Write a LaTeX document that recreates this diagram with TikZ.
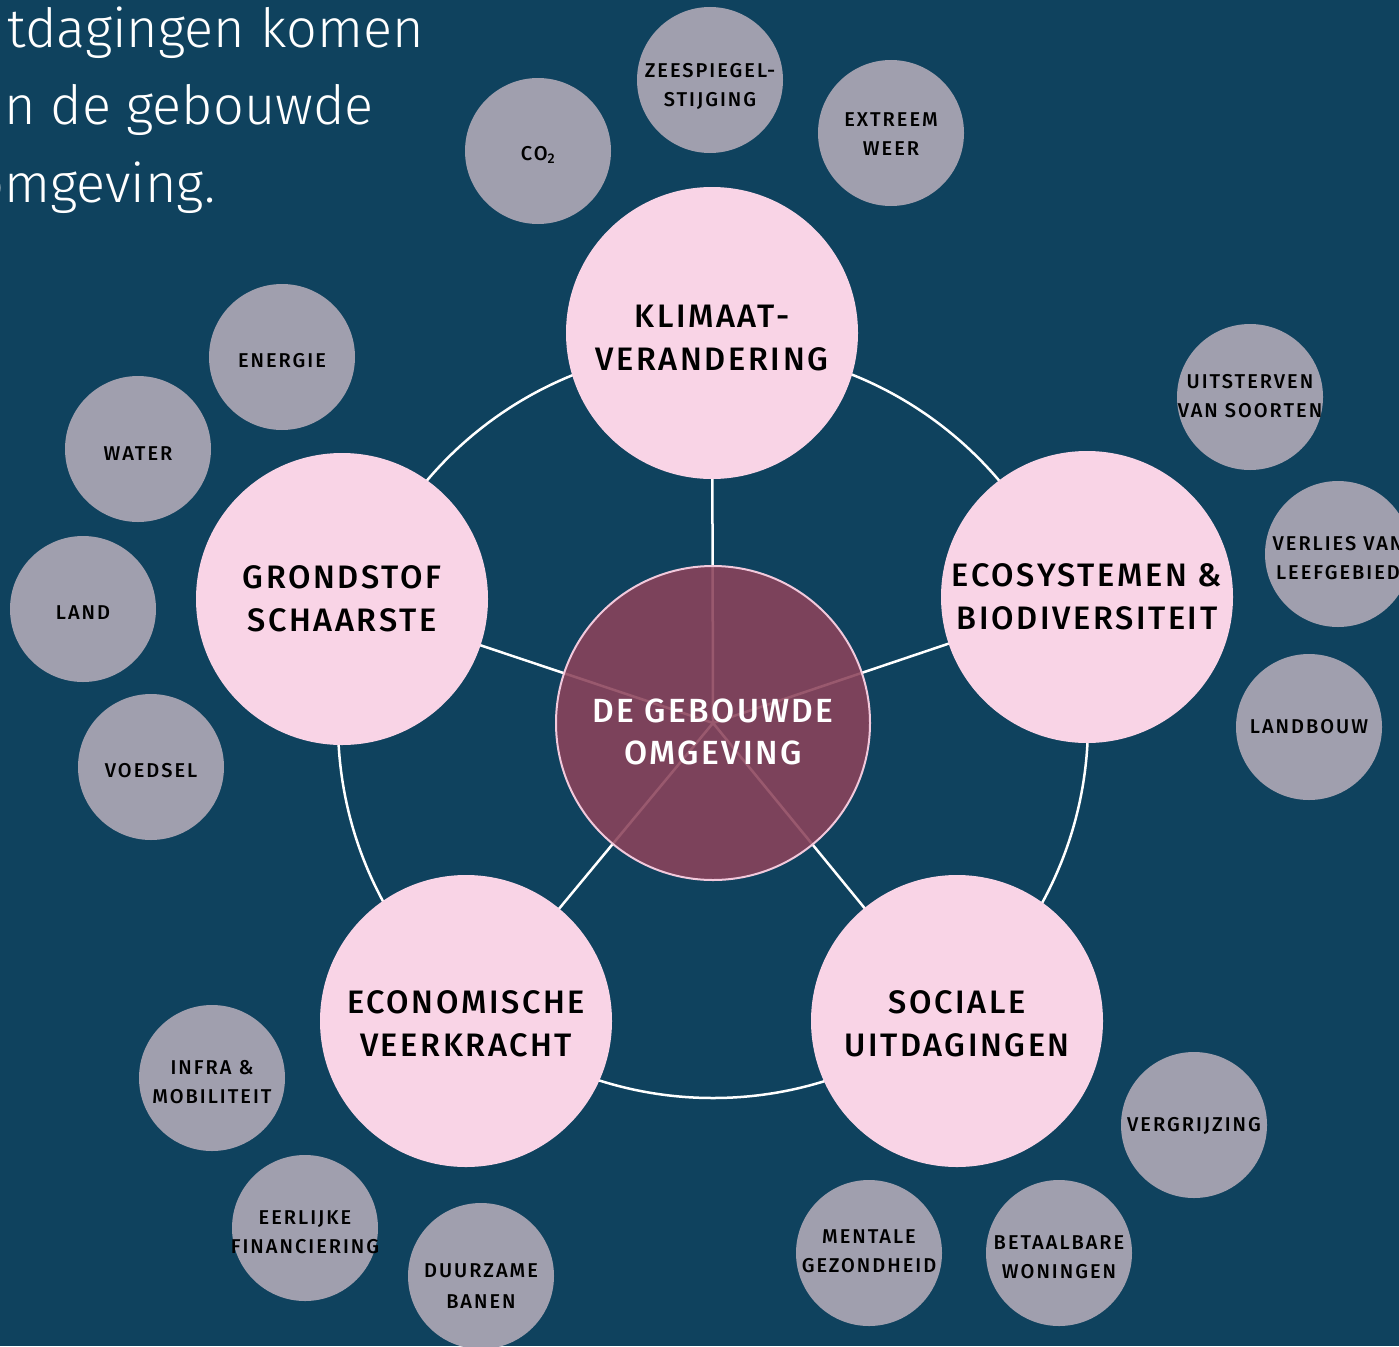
\documentclass[tikz,border=0pt]{standalone}
\usepackage{fontspec}
\setmainfont{Fira Sans}
\newfontfamily\medfont{Fira Sans Medium}[LetterSpace=8]
\newfontfamily\smallfont{Fira Sans Medium}[LetterSpace=10]
\newfontfamily\corefont{Fira Sans Medium}[LetterSpace=7]
\newfontfamily\lightfont{Fira Sans Light}
\definecolor{bg}{HTML}{0F425E}
\definecolor{pinkc}{HTML}{F9D4E6}
\definecolor{grayc}{HTML}{A09FAE}
\definecolor{maroon}{HTML}{8C435B}
\definecolor{rimc}{HTML}{F2C9DC}
\pgfdeclarelayer{back}
\pgfdeclarelayer{lines}
\pgfsetlayers{back,lines,main}
\tikzset{
  theme/.style={circle, fill=pinkc, minimum size=292pt, inner sep=0pt},
  themelab/.style={align=center, inner sep=0pt, text=black,
    font=\medfont\fontsize{32.5}{43}\selectfont},
  sub/.style={circle, fill=grayc, minimum size=146pt, inner sep=0pt},
  sublab/.style={align=center, inner sep=0pt, text=black,
    font=\smallfont\fontsize{20}{29}\selectfont},
  core/.style={circle, fill=maroon, fill opacity=0.88, draw=rimc, draw opacity=1,
    line width=2pt, minimum size=314pt, inner sep=0pt},
  corelab/.style={align=center, inner sep=0pt, text=white,
    font=\corefont\fontsize{33.5}{42}\selectfont},
  link/.style={white, line width=2.5pt},
  intro/.style={anchor=base west, text=white, inner sep=0pt, font=\lightfont\fontsize{54}{77}\selectfont},
}
\begin{document}
\begin{tikzpicture}[x=1pt,y=-1pt]
\useasboundingbox (0,0) rectangle (1399,1346);
\clip (0,0) rectangle (1399,1346);
\begin{pgfonlayer}{back}
\fill[bg] (0,0) rectangle (1399,1346);
\end{pgfonlayer}

% intro text
\node[intro] (t1) at (7,48) {tdagingen komen};
\node[intro] (t2) at (4,124) {n de gebouwde};
\node[intro] (t3) at (-27,202) {omgeving.};

% core and themes
\node[core, label={[corelab, yshift=-9pt]center:DE GEBOUWDE\\OMGEVING}] (c) at (713,723) {};
\node[theme, label={[themelab, yshift=-5pt]center:KLIMAAT-\\VERANDERING}] (k) at (712,333) {};
\node[theme, label={[themelab]center:ECOSYSTEMEN \&\\BIODIVERSITEIT}] (e) at (1087,597) {};
\node[theme, label={[themelab, yshift=-3pt]center:SOCIALE\\UITDAGINGEN}] (s) at (957,1021) {};
\node[theme, label={[themelab, yshift=-3pt]center:ECONOMISCHE\\VEERKRACHT}] (w) at (466,1021) {};
\node[theme, label={[themelab]center:GRONDSTOF\\SCHAARSTE}] (g) at (342,599) {};

% sub topics
\node[sub, label={[sublab, yshift=-4pt]center:CO\textsubscript{2}}] (co) at (538,151) {};
\node[sub, label={[sublab, yshift=-6pt]center:ZEESPIEGEL-\\STIJGING}] (zs) at (710,80) {};
\node[sub, label={[sublab, yshift=-1pt]center:EXTREEM\\WEER}] (ew) at (891,133) {};
\node[sub, label={[sublab, yshift=-4pt]center:ENERGIE}] (en) at (282,357) {};
\node[sub, label={[sublab, yshift=-5pt]center:WATER}] (wa) at (138,449) {};
\node[sub, label={[sublab, yshift=-4pt]center:LAND}] (la) at (83,609) {};
\node[sub, label={[sublab, yshift=-4pt]center:VOEDSEL}] (vo) at (151,767) {};
\node[sub, label={[sublab, yshift=1pt]center:UITSTERVEN\\VAN SOORTEN}] (us) at (1250,397) {};
\node[sub, label={[sublab, yshift=-4pt]center:VERLIES VAN\\LEEFGEBIED}] (vl) at (1338,554) {};
\node[sub, label={[sublab]center:LANDBOUW}] (lb) at (1309,727) {};
\node[sub, label={[sublab, yshift=-1pt]center:VERGRIJZING}] (vg) at (1194,1125) {};
\node[sub, label={[sublab, yshift=-4pt]center:BETAALBARE\\WONINGEN}] (bw) at (1059,1253) {};
\node[sub, label={[sublab, yshift=2pt]center:MENTALE\\GEZONDHEID}] (mg) at (869,1253) {};
\node[sub, label={[sublab, yshift=-4pt]center:INFRA \&\\MOBILITEIT}] (im) at (212,1078) {};
\node[sub, label={[sublab, yshift=-4pt]center:EERLIJKE\\FINANCIERING}] (ef) at (305,1228) {};
\node[sub, label={[sublab, yshift=-10pt, font=\smallfont\fontsize{20}{31}\selectfont]center:DUURZAME\\BANEN}] (db) at (481,1276) {};

% ring and spokes
\begin{pgfonlayer}{lines}
\draw[link] (c.center) circle[radius=375pt];
\foreach \t in {k,e,s,w,g} \draw[link] (c.center) -- (\t.center);
\end{pgfonlayer}
\end{tikzpicture}
\end{document}
